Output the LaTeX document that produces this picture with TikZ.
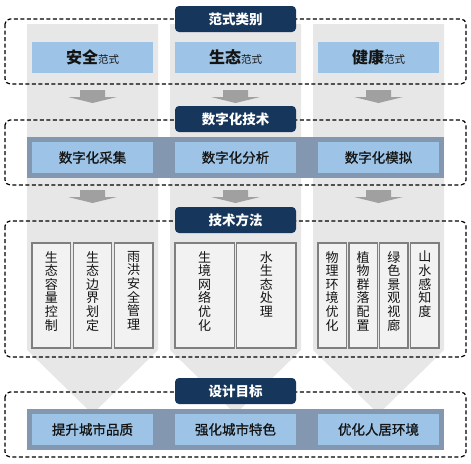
\documentclass[tikz,border=0pt]{standalone}
\usepackage{fontspec}
\setmainfont{Noto Sans CJK SC}
\newfontfamily\cjkmed[FakeBold=1.0]{Noto Sans CJK SC}
\definecolor{colgray}{RGB}{231,231,231}
\definecolor{navy}{RGB}{22,54,92}
\definecolor{lblue}{RGB}{157,195,230}
\definecolor{bandc}{RGB}{132,151,176}
\definecolor{vgray}{RGB}{242,242,242}
\definecolor{bordergray}{RGB}{127,127,127}
\definecolor{arrgray}{RGB}{160,160,160}
\definecolor{txt}{RGB}{20,20,20}
\begin{document}
\begin{tikzpicture}[x=1pt,y=-1pt,
  dbox/.style={draw=black, line width=1.2pt, dash pattern=on 4pt off 2.5pt, rounded corners=5pt},
  tag/.style={fill=navy, rounded corners=4pt, text=white, font={\bfseries\fontsize{13.5}{14}\selectfont}, minimum width=121pt, minimum height=26pt, inner sep=0pt},
  bluebox/.style={fill=lblue, minimum width=121pt, minimum height=31pt, inner sep=0pt, text=txt},
  band/.style={fill=bandc, minimum width=417pt, minimum height=41pt, inner sep=0pt},
  vbox/.style={fill=vgray, draw=bordergray, line width=1.3pt, minimum height=105pt, inner sep=0pt},
  vtext/.style={align=center, font={\fontsize{13}{13.6}\selectfont}, inner sep=0pt, anchor=north, text=txt},
  midtext/.style={font={\cjkmed\fontsize{13.5}{14}\selectfont}},
  arr/.style={fill=arrgray}
]
\useasboundingbox (0,0) rectangle (471,463);
% gray columns with pointed bottoms
\foreach \l/\r in {27/158,170/301,313/444}{
  \fill[colgray] (\l,24) -- (\r,24) -- (\r,350) -- ({(\l+\r)/2},414) -- (\l,350) -- cycle;
}
% small arrows
\foreach \cx in {92.5,235.5,378.5}{
  \foreach \ty in {90,190}{
    \fill[arr] (\cx-12.5,\ty) -- (\cx+12.5,\ty) -- (\cx+12.5,\ty+7) -- (\cx+24.5,\ty+7)
      -- (\cx,\ty+13) -- (\cx-24.5,\ty+7) -- (\cx-12.5,\ty+7) -- cycle;
  }
}
% dashed frames
\draw[dbox] (5,19) rectangle (466,84);
\draw[dbox] (5,120) rectangle (466,185);
\draw[dbox] (5,221) rectangle (466,357);
\draw[dbox] (5,392) rectangle (466,457);

% row 1
\node[bluebox] (p1) at (92.5,57) {{\bfseries\fontsize{16}{16}\selectfont 安全}{\fontsize{10.5}{11}\selectfont 范式}};
\node[bluebox] (p2) at (235.5,57) {{\bfseries\fontsize{16}{16}\selectfont 生态}{\fontsize{10.5}{11}\selectfont 范式}};
\node[bluebox] (p3) at (378.5,57) {{\bfseries\fontsize{16}{16}\selectfont 健康}{\fontsize{10.5}{11}\selectfont 范式}};

% row 2
\node[band] (band2) at (235.5,157.5) {};
\node[bluebox, midtext] (d1) at (92.5,157.5) {数字化采集};
\node[bluebox, midtext] (d2) at (235.5,157.5) {数字化分析};
\node[bluebox, midtext] (d3) at (378.5,157.5) {数字化模拟};

% row 3 boxes
\node[vbox, minimum width=38.67pt] (m11) at (51.33,295.5) {};
\node[vbox, minimum width=38.67pt] (m12) at (92.5,295.5) {};
\node[vbox, minimum width=38.67pt] (m13) at (133.67,295.5) {};
\node[vbox, minimum width=59.25pt] (m21) at (204.6,295.5) {};
\node[vbox, minimum width=59.25pt] (m22) at (266.4,295.5) {};
\node[vbox, minimum width=28.4pt] (m31) at (332.2,295.5) {};
\node[vbox, minimum width=28.4pt] (m32) at (363.1,295.5) {};
\node[vbox, minimum width=28.4pt] (m33) at (393.9,295.5) {};
\node[vbox, minimum width=28.4pt] (m34) at (424.8,295.5) {};

\node[vtext] (t11) at (51.33,251) {生\\态\\容\\量\\控\\制};
\node[vtext] (t12) at (92.5,251) {生\\态\\边\\界\\划\\定};
\node[vtext] (t13) at (133.67,251) {雨\\洪\\安\\全\\管\\理};
\node[vtext] (t21) at (204.6,251) {生\\境\\网\\络\\优\\化};
\node[vtext] (t22) at (266.4,251) {水\\生\\态\\处\\理};
\node[vtext] (t31) at (332.2,251) {物\\理\\环\\境\\优\\化};
\node[vtext] (t32) at (363.1,251) {植\\物\\群\\落\\配\\置};
\node[vtext] (t33) at (393.9,251) {绿\\色\\景\\观\\视\\廊};
\node[vtext] (t34) at (424.8,251) {山\\水\\感\\知\\度};

% row 4
\node[band] (band4) at (235.5,429.5) {};
\node[bluebox, midtext] (g1) at (92.5,429.5) {提升城市品质};
\node[bluebox, midtext] (g2) at (235.5,429.5) {强化城市特色};
\node[bluebox, midtext] (g3) at (378.5,429.5) {优化人居环境};

% tags
\node[tag] (tag1) at (235.5,19) {范式类别};
\node[tag] (tag2) at (235.5,119) {数字化技术};
\node[tag] (tag3) at (235.5,220) {技术方法};
\node[tag] (tag4) at (235.5,391) {设计目标};
\end{tikzpicture}
\end{document}
